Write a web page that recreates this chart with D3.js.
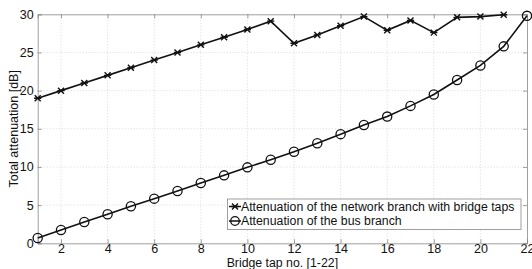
<!DOCTYPE html>
<html><head><meta charset="utf-8">
<script src="https://cdn.jsdelivr.net/npm/d3@7"></script>
<style>body{margin:0;background:#fff}svg{display:block;font-family:"Liberation Sans",Arial,sans-serif}</style>
</head><body><svg id="c" width="532" height="269"></svg>
<script>
const networkX = [1,2,3,4,5,6,7,8,9,10,11,12,13,14,15,16,17,18,19,20,21];
const networkY = [19,20,21,22,23,24,25,26,27,28,29.1,26.2,27.3,28.5,29.7,27.9,29.2,27.6,29.6,29.7,29.95];
const busX = [1,2,3,4,5,6,7,8,9,10,11,12,13,14,15,16,17,18,19,20,21,22];
const busY = [0.7,1.75,2.8,3.8,4.85,5.85,6.85,7.9,8.9,9.95,10.95,12.0,13.1,14.3,15.5,16.6,18.0,19.5,21.4,23.3,25.8,29.8];
const xTicks = [2,4,6,8,10,12,14,16,18,20,22];
const yTicks = [0,5,10,15,20,25,30];
const legendLabels = ["Attenuation of the network branch with bridge taps","Attenuation of the bus branch"];

const svg = d3.select("#c");
const L = 37.7, R = 527, T = 14.3, B = 243.3;
const x = d3.scaleLinear().domain([1,22]).range([L,R]);
const y = d3.scaleLinear().domain([0,30]).range([B,T]);

// grid
const g = svg.append("g");
g.selectAll(".gx").data(xTicks.filter(d=>d<22)).enter().append("line")
  .attr("x1",d=>x(d)).attr("x2",d=>x(d)).attr("y1",T).attr("y2",B)
  .attr("stroke","#c8c8c8").attr("stroke-width",0.7).attr("stroke-dasharray","1,2");
g.selectAll(".gy").data(yTicks.filter(d=>d>0&&d<30)).enter().append("line")
  .attr("y1",d=>y(d)).attr("y2",d=>y(d)).attr("x1",L).attr("x2",R)
  .attr("stroke","#c8c8c8").attr("stroke-width",0.7).attr("stroke-dasharray","1,2");

// axes
const ax = svg.append("g").attr("transform",`translate(0,${B})`)
  .call(d3.axisBottom(x).tickValues(xTicks).tickSize(-4).tickPadding(1).tickFormat(d3.format("d")));
const ay = svg.append("g").attr("transform",`translate(${L},0)`)
  .call(d3.axisLeft(y).tickValues(yTicks).tickSize(-4).tickPadding(4).tickFormat(d3.format("d")));
svg.append("g").attr("transform",`translate(0,${T})`)
  .call(d3.axisTop(x).tickValues(xTicks).tickSize(-4).tickFormat(""));
svg.append("g").attr("transform",`translate(${R},0)`)
  .call(d3.axisRight(y).tickValues(yTicks).tickSize(-4).tickFormat(""));
svg.selectAll(".domain").attr("stroke","#888").attr("stroke-width",0.8);
svg.selectAll(".tick line").attr("stroke","#888").attr("stroke-width",0.8);
svg.selectAll(".tick text").attr("font-size",12.5).attr("fill","#111").attr("font-family","Liberation Sans, Arial, sans-serif");

// lines
const line = d3.line().x(d=>x(d[0])).y(d=>y(d[1]));
const net = networkX.map((d,i)=>[d,networkY[i]]);
const bus = busX.map((d,i)=>[d,busY[i]]);
svg.append("path").datum(net).attr("d",line).attr("fill","none").attr("stroke","#111").attr("stroke-width",1.6);
svg.append("path").datum(bus).attr("d",line).attr("fill","none").attr("stroke","#111").attr("stroke-width",1.6);

function star(sel, cx, cy, s){
  const p = `M${cx-s},${cy-s}L${cx+s},${cy+s}M${cx-s},${cy+s}L${cx+s},${cy-s}M${cx-s*1.2},${cy}L${cx+s*1.2},${cy}`;
  sel.append("path").attr("d",p).attr("stroke","#111").attr("stroke-width",1.4).attr("fill","none");
}
const mk = svg.append("g");
net.forEach(d=>star(mk, x(d[0]), y(d[1]), 3));
mk.selectAll(".o").data(bus).enter().append("circle")
  .attr("cx",d=>x(d[0])).attr("cy",d=>y(d[1])).attr("r",4.6)
  .attr("fill","none").attr("stroke","#111").attr("stroke-width",1.3);

// legend
const lg = svg.append("g");
lg.append("rect").attr("x",227.5).attr("y",199).attr("width",293.5).attr("height",30.5)
  .attr("fill","#fff").attr("stroke","#888").attr("stroke-width",0.8);
[0,1].forEach(i=>{
  const yy = 206.5 + i*14.5;
  lg.append("line").attr("x1",229).attr("x2",241).attr("y1",yy).attr("y2",yy).attr("stroke","#111").attr("stroke-width",1.5);
  if(i===0) star(lg,235,yy,3); else lg.append("circle").attr("cx",235).attr("cy",yy).attr("r",4.3).attr("fill","none").attr("stroke","#111").attr("stroke-width",1.3);
  lg.append("text").attr("x",241).attr("y",yy+4.2).attr("font-size",12.3).attr("fill","#111").text(legendLabels[i]);
});

// labels
svg.append("text").attr("x",(L+R)/2).attr("y",266.5).attr("text-anchor","middle").attr("font-size",12.3).attr("fill","#111").text("Bridge tap no. [1-22]");
svg.append("text").attr("transform",`translate(14,${(T+B)/2}) rotate(-90)`).attr("dy","0.35em").attr("text-anchor","middle").attr("font-size",12.5).attr("fill","#111").text("Total attenuation [dB]");
</script></body></html>
